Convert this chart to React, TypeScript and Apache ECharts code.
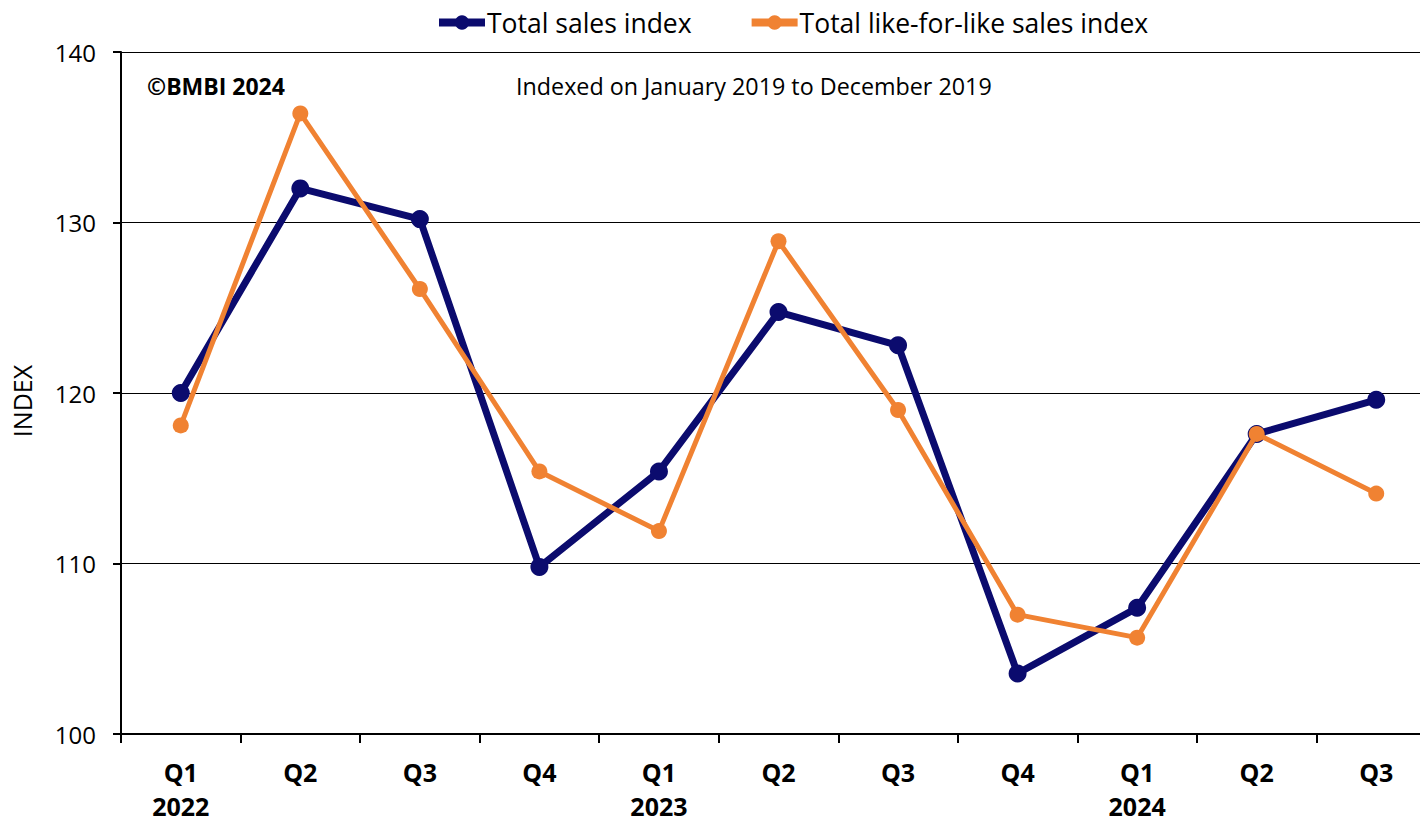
import React, { useEffect, useRef } from "react";
import * as echarts from "echarts";

const categories = ["Q1\n2022", "Q2", "Q3", "Q4", "Q1\n2023", "Q2", "Q3", "Q4", "Q1\n2024", "Q2", "Q3"];
const totalSales = [120.0, 132.0, 130.2, 109.8, 115.4, 124.75, 122.8, 103.55, 107.4, 117.6, 119.6];
const likeForLike = [118.1, 136.4, 126.1, 115.4, 111.9, 128.9, 119.0, 107.0, 105.65, 117.6, 114.1];
const yTicks = { min: 100, max: 140, interval: 10 };

const FONT = "'Open Sans', sans-serif";
const NAVY = "#0b0b6e";
const ORANGE = "#f08232";

export default function App() {
  const ref = useRef<HTMLDivElement>(null);
  useEffect(() => {
    const chart = echarts.init(ref.current!, null, { renderer: "svg" });
    chart.setOption({
      animation: false,
      textStyle: { fontFamily: FONT },
      legend: {
        top: 4,
        left: 430,
        itemWidth: 46,
        itemHeight: 18,
        itemGap: 56,
        textStyle: { fontSize: 26.5, color: "#000", fontFamily: FONT, padding: [0, 0, 0, -3] },
        data: [
          { name: "Total sales index", lineStyle: { width: 8 } },
          { name: "Total like-for-like sales index", lineStyle: { width: 8 } },
        ],
      },
      grid: { left: 121, top: 52, bottom: 83, right: 0, containLabel: false },
      xAxis: {
        type: "category",
        data: categories,
        boundaryGap: true,
        axisLine: { lineStyle: { color: "#000", width: 2 } },
        axisTick: { show: true, alignWithLabel: false, length: 9, lineStyle: { color: "#000", width: 2 } },
        axisLabel: {
          interval: 0,
          margin: 21,
          fontSize: 25,
          fontWeight: "bold",
          color: "#000",
          lineHeight: 34,
          fontFamily: FONT,
        },
      },
      yAxis: {
        type: "value",
        min: yTicks.min,
        max: yTicks.max,
        interval: yTicks.interval,
        axisLine: { show: true, lineStyle: { color: "#000", width: 2 } },
        axisTick: { show: true, length: 8, lineStyle: { color: "#000", width: 2 } },
        axisLabel: { fontSize: 24, color: "#000", margin: 25, fontFamily: FONT },
        splitLine: { show: true, lineStyle: { color: "#000", width: 1 } },
      },
      graphic: [
        {
          type: "text",
          x: 22,
          y: 401,
          rotation: Math.PI / 2,
          style: {
            text: "INDEX",
            fontSize: 25,
            fill: "#000",
            fontFamily: FONT,
            textAlign: "center",
            textVerticalAlign: "middle",
          },
        },
        {
          type: "text",
          left: 147,
          top: 74,
          style: { text: "©BMBI 2024", fontSize: 23, fontWeight: "bold", fill: "#000", fontFamily: FONT },
        },
        {
          type: "text",
          left: 516,
          top: 74,
          style: { text: "Indexed on January 2019 to December 2019", fontSize: 23.3, fill: "#000", fontFamily: FONT },
        },
      ],
      series: [
        {
          name: "Total sales index",
          type: "line",
          data: totalSales,
          color: NAVY,
          symbol: "circle",
          symbolSize: 18,
          lineStyle: { width: 7, color: NAVY },
          itemStyle: { color: NAVY },
          z: 2,
        },
        {
          name: "Total like-for-like sales index",
          type: "line",
          data: likeForLike,
          color: ORANGE,
          symbol: "circle",
          symbolSize: 16,
          lineStyle: { width: 5, color: ORANGE },
          itemStyle: { color: ORANGE },
          z: 3,
        },
      ],
    });
    return () => chart.dispose();
  }, []);
  return (
    <div style={{ position: "absolute", left: 0, top: 0, width: 1420, height: 823, overflow: "hidden", background: "#fff" }}>
      <div ref={ref} style={{ width: 1436, height: 823 }} />
    </div>
  );
}
